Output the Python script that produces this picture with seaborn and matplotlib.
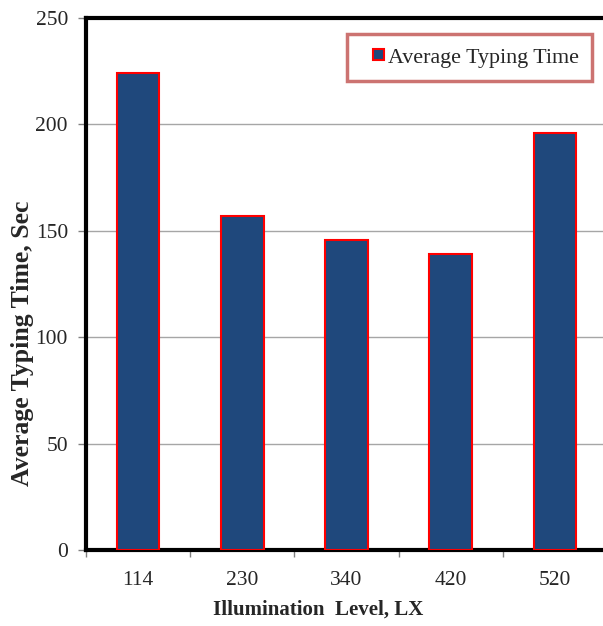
import matplotlib
matplotlib.use("Agg")
import matplotlib.pyplot as plt
import seaborn as sns
import pandas as pd
from matplotlib.ticker import FixedLocator
from matplotlib.patches import Rectangle
from matplotlib.legend_handler import HandlerPatch
from matplotlib.container import BarContainer

categories = ["114", "230", "340", "420", "520"]
values = [224, 157, 145.5, 139, 196]
yticks = [0, 50, 100, 150, 200, 250]

sns.set_style("white")
plt.rcParams['font.family'] = ['Liberation Serif', 'DejaVu Serif']

df = pd.DataFrame({"Illumination": categories, "Time": values})

fig = plt.figure(figsize=(6.03, 6.26), dpi=100)
W, H = 603, 626
L, R, T, B = 86, 607, 18, 550
ax = fig.add_axes([L / W, 1 - B / H, (R - L) / W, (B - T) / H])

sns.barplot(data=df, x="Illumination", y="Time", ax=ax, color="#1F487C",
            saturation=1, width=0.41, edgecolor="#FF0000", linewidth=1.5,
            label="Average Typing Time", zorder=3)

ax.set_ylim(0, 250)
ax.set_xlim(-0.5, 4.5)
ax.set_yticks(yticks)
ax.yaxis.grid(True, color="#A6A6A6", linewidth=1, zorder=0)
ax.set_axisbelow(True)

ax.xaxis.set_minor_locator(FixedLocator([-0.5, 0.5, 1.5, 2.5, 3.5, 4.5]))
ax.tick_params(axis="x", which="major", length=0, labelsize=15.5, pad=15)
ax.tick_params(axis="x", which="minor", length=5, width=1, color="#808080", direction="out", bottom=True)
ax.tick_params(axis="y", which="major", length=6, width=1, color="#808080", direction="out", left=True, labelsize=15.5, pad=7)

for s in ["left", "top", "bottom", "right"]:
    ax.spines[s].set_color("black")
    ax.spines[s].set_linewidth(3)

ax.set_xlabel("Illumination  Level, LX", fontsize=15, fontweight="bold")
ax.set_ylabel("Average Typing Time, Sec", fontsize=18.5, fontweight="bold")
ax.xaxis.set_label_coords((318 - L) / (R - L), (B - 610) / (B - T))
ax.xaxis.label.set_va("center")
ax.yaxis.set_label_coords((23 - L) / (R - L), (B - 343) / (B - T))
ax.yaxis.label.set_va("center")


def small_square(legend, orig_handle, xdescent, ydescent, width, height, fontsize):
    s = 8.0
    return Rectangle((-xdescent + width - s, -ydescent + (height - s) / 2), s, s)


def copy_props(legend_handle, orig_handle):
    first = orig_handle.patches[0]
    legend_handle.update_from(first)
    legend_handle.set_linewidth(1.5)


leg = ax.legend(loc="upper left", bbox_to_anchor=((347 - L) / (R - L), 1 - (34 - T) / (B - T)),
                fontsize=15.8, frameon=True, fancybox=False, handlelength=1.1, handleheight=0.7,
                handletextpad=0.15, borderpad=0.6, borderaxespad=0,
                handler_map={BarContainer: HandlerPatch(patch_func=small_square, update_func=copy_props)})
leg.get_frame().set_edgecolor("#C0504D")
leg.get_frame().set_linewidth(2.5)

fig.savefig("out.png", dpi=100)
